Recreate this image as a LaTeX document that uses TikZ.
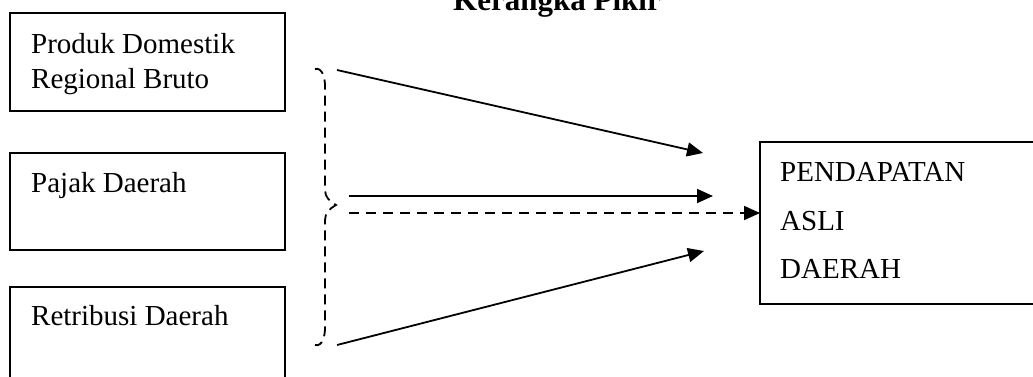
\documentclass[tikz,border=0pt]{standalone}
\usepackage{fontspec}
\setmainfont{Liberation Serif}
\usetikzlibrary{arrows.meta}
\begin{document}
\begin{tikzpicture}[x=1pt,y=-1pt,
  box/.style={draw,line width=1.6pt,minimum width=#1,inner sep=0pt,outer sep=0pt},
  lbl/.style={anchor=base west,inner sep=0pt,font=\fontsize{29}{35}\selectfont},
  arr/.style={line width=1.8pt,-{Triangle[length=16pt,width=14pt]}},
  dash2/.style={dash pattern=on 10pt off 7pt},
  bracedash/.style={line width=1.8pt,dash pattern=on 10pt off 6pt}]
\useasboundingbox (0,0) rectangle (1033,376);
\clip (0,0) rectangle (1033,376);
% title
\node[anchor=base,inner sep=0pt,font=\bfseries\fontsize{31}{36}\selectfont] (title) at (557,10) {Kerangka Pikir};
% left boxes
\node[box=275pt,minimum height=98pt] (b1) at (147.5,62) {};
\node[box=275pt,minimum height=97pt] (b2) at (147.5,201.5) {};
\node[box=275pt,minimum height=120pt] (b3) at (147.5,347) {};
\node[lbl] (t1a) at (31,53) {Produk Domestik};
\node[lbl] (t1b) at (31,88) {Regional Bruto};
\node[lbl] (t2) at (31,192) {Pajak Daerah};
\node[lbl] (t3) at (31,325) {Retribusi Daerah};
% right box
\node[box=300pt,minimum height=162pt] (pad) at (910,223) {};
\node[lbl] (r1) at (780,181) {PENDAPATAN};
\node[lbl] (r2) at (780,230) {ASLI};
\node[lbl] (r3) at (780,278) {DAERAH};
% brace
\draw[bracedash] (315,69) to[out=15,in=90] (325,86) -- (325,190)
  to[out=-90,in=150] (336,205) to[out=210,in=90] (325,220) -- (325,328)
  to[out=-90,in=-15] (315,345);
% arrows
\coordinate (s1) at (337,70);  \coordinate (e1) at (703,153);
\coordinate (s2) at (349,196); \coordinate (e2) at (713,196);
\coordinate (s3) at (349,213); \coordinate (e3) at (760,213);
\coordinate (s4) at (337,345); \coordinate (e4) at (704,251);
\draw[arr] (s1) -- (e1);
\draw[arr] (s2) -- (e2);
\draw[arr,dash2] (s3) -- (e3);
\draw[arr] (s4) -- (e4);
\end{tikzpicture}
\end{document}
